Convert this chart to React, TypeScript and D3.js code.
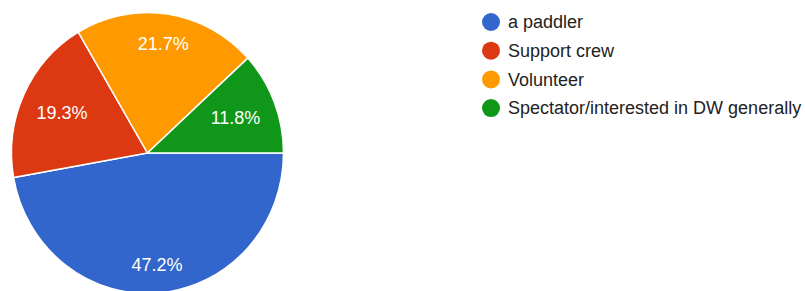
import React, { useEffect, useRef } from 'react';
import * as d3 from 'd3';

const categories = ['a paddler', 'Support crew', 'Volunteer', 'Spectator/interested in DW generally'];
const shares = [47.2, 19.3, 21.7, 11.8];
const colors = ['#3366cc', '#dc3912', '#ff9900', '#109618'];

export default function App() {
  const svgRef = useRef<SVGSVGElement>(null);

  useEffect(() => {
    if (!svgRef.current) return;
    const svg = d3.select(svgRef.current);
    svg.selectAll('*').remove();

    // the source image is a little taller than wide
    const cx = 147.5, cy = 153, rx = 136, ry = 140.5;
    const font = '"Liberation Sans", Arial, sans-serif';

    const data = categories.map((c, i) => ({ name: c, value: shares[i], color: colors[i] }));

    // Google-style pie: first slice starts at 3 o'clock, clockwise
    const pie = d3.pie<any>()
      .sort(null)
      .value(d => d.value)
      .startAngle(Math.PI / 2)
      .endAngle(Math.PI / 2 + Math.PI * 2);

    const arc = d3.arc<any>().innerRadius(0).outerRadius(rx);

    const arcs = pie(data);

    svg.append('g')
      .attr('transform', `translate(${cx},${cy}) scale(1,${ry / rx})`)
      .selectAll('path')
      .data(arcs)
      .enter()
      .append('path')
      .attr('d', arc)
      .attr('fill', d => d.data.color)
      .attr('stroke', '#fff')
      .attr('stroke-width', 1.5)
      .attr('vector-effect', 'non-scaling-stroke');

    const g = svg.append('g').attr('transform', `translate(${cx},${cy})`);

    // labels: push the text box outward until its far corner hits labelR
    const labelR = 120;
    arcs.forEach(a => {
      const t = g.append('text')
        .attr('font-family', font)
        .attr('font-size', 18)
        .attr('fill', '#fff')
        .attr('text-anchor', 'middle')
        .attr('dy', '0.35em')
        .text(`${a.data.value.toFixed(1)}%`);
      const w = (t.node() as SVGTextElement).getComputedTextLength();
      const h = 13;
      const mid = (a.startAngle + a.endAngle) / 2;
      const ux = Math.sin(mid), uy = -Math.cos(mid);
      const c = [Math.sign(ux) * w / 2, Math.sign(uy) * h / 2];
      const uc = ux * c[0] + uy * c[1];
      const cc = c[0] * c[0] + c[1] * c[1];
      const dist = -uc + Math.sqrt(uc * uc - cc + labelR * labelR);
      t.attr('x', ux * dist).attr('y', uy * dist * ry / rx);
    });

    // legend
    const legend = svg.append('g').attr('transform', 'translate(491,22)');
    const items = legend.selectAll('g')
      .data(data)
      .enter()
      .append('g')
      .attr('transform', (d, i) => `translate(0,${i * 28.7})`);

    items.append('circle')
      .attr('r', 9)
      .attr('fill', d => d.color);

    items.append('text')
      .attr('x', 17)
      .attr('dy', '0.35em')
      .attr('font-family', font)
      .attr('font-size', 18)
      .attr('fill', '#222')
      .text(d => d.name);
  }, []);

  return (
    <svg
      ref={svgRef}
      width={805}
      height={291}
      style={{ position: 'absolute', left: 0, top: 0, background: '#fff' }}
    />
  );
}
